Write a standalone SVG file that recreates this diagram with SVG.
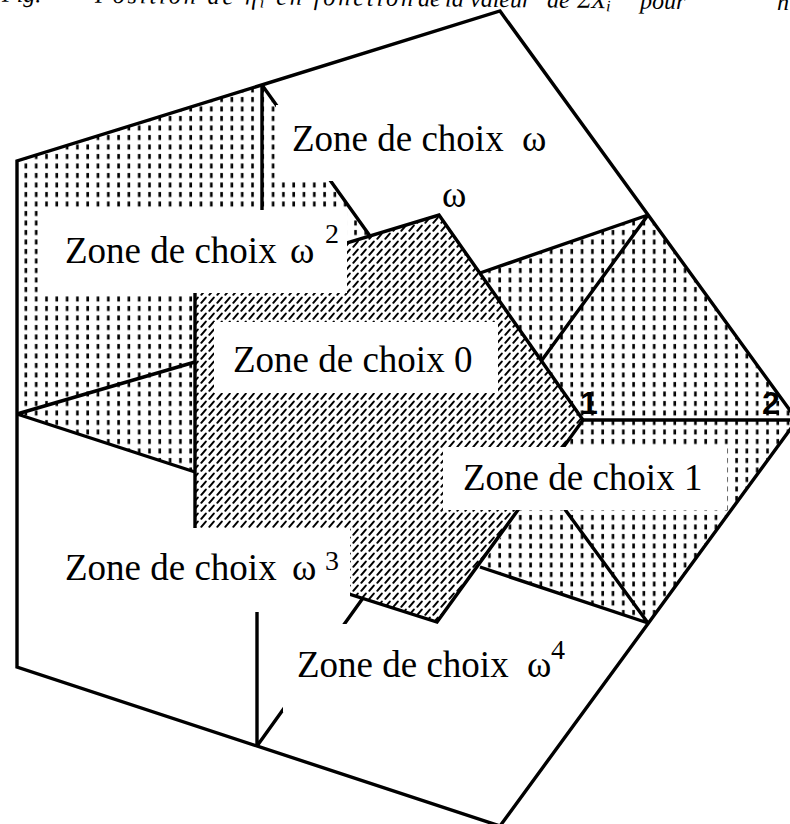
<svg xmlns="http://www.w3.org/2000/svg" width="790" height="824" viewBox="0 0 790 824">
<style>
.ln{fill:none;stroke:#000;stroke-width:3.4;stroke-linejoin:miter;stroke-linecap:butt}
.box{fill:#fff;stroke:none}
.lbl{font-family:"Liberation Serif","Times New Roman",serif;font-size:37px;fill:#000}
.sup{font-family:"Liberation Serif","Times New Roman",serif;font-size:28px;fill:#000}
.pt{font-family:"Liberation Sans",Arial,sans-serif;font-size:32px;font-weight:bold;fill:#000}
.cap{font-family:"Liberation Serif","Times New Roman",serif;font-size:24px;font-style:italic;fill:#000}
</style>
<defs>
<pattern id="dots" width="10.3" height="9.5" patternUnits="userSpaceOnUse">
<rect x="4" y="2" width="2.6" height="5" fill="#000"/>
</pattern>
<pattern id="hatch" width="8" height="8" patternUnits="userSpaceOnUse">
<path d="M1.3,6.8 L5.8,1.6" stroke="#000" stroke-width="2" stroke-linecap="round"/>
</pattern>
</defs>
<rect width="790" height="824" fill="#fff"/>

<g id="caption" transform="rotate(0.6 400 6)">
<text class="cap" x="2" y="6">Fig.</text>
<text class="cap" x="95" y="6" textLength="318" lengthAdjust="spacing">Position de η<tspan font-size="16" dy="3">i</tspan><tspan dy="-3"> en fonction</tspan></text>
<text class="cap" x="418" y="6">de</text>
<text class="cap" x="445" y="6">la</text>
<text class="cap" x="470" y="6">valeur</text>
<text class="cap" x="547" y="6">de</text>
<text class="cap" x="577" y="6">ΣX<tspan font-size="16" dy="3">i</tspan></text>
<text class="cap" x="640" y="6">pour</text>
<text class="cap" x="777" y="6">n</text>
</g>

<g id="fills">
<polygon id="zone-omega2-fill" points="262,85 370,236 195,289 195,472 17,414 17,161" fill="url(#dots)"/>
<polygon id="zone-1-fill" points="480,273 648,215 797,420 648,623 480,567 583,420" fill="url(#dots)"/>
<polygon id="zone-0-fill" points="439,215 583,420 437,622 195,545 195,289" fill="url(#hatch)"/>
</g>

<g id="connectors">
<path class="ln" d="M500,11 L797,420 L500,826 L17,667 L17,161 Z"/>
<path class="ln" d="M439,215 L583,420 L437,622 L195,545 L195,289 Z"/>
<path class="ln" d="M648,215 L480,273 M648,215 L542,360"/>
<path class="ln" d="M648,623 L480,567 M648,623 L542,478"/>
<path class="ln" d="M257,746 L257,565 M257,746 L363,598"/>
<path class="ln" d="M17,414 L195,362 M17,414 L195,472"/>
<path class="ln" d="M262,85 L262,269 M262,85 L370,236"/>
<path class="ln" d="M583,420 L797,420"/>
</g>

<g id="node-zone-omega">
<rect class="box" x="276" y="105" width="278" height="76"/>
<text class="lbl" x="292" y="151">Zone de choix</text>
<text class="lbl" x="522" y="151">ω</text>
</g>
<g id="node-omega">
<text class="lbl" x="442" y="207">ω</text>
</g>
<g id="node-zone-omega2">
<rect class="box" x="38" y="210" width="309" height="83"/>
<text class="lbl" x="65" y="263">Zone de choix</text>
<text class="lbl" x="290" y="263">ω</text>
<text class="sup" x="325" y="243">2</text>
</g>
<g id="node-zone-0">
<rect class="box" x="214" y="322" width="284" height="71"/>
<text class="lbl" x="233" y="372">Zone de choix 0</text>
</g>
<g id="node-zone-1">
<rect class="box" x="443" y="447" width="284" height="63"/>
<text class="lbl" x="463" y="490">Zone de choix 1</text>
</g>
<g id="node-zone-omega3">
<rect class="box" x="40" y="528" width="310" height="84"/>
<text class="lbl" x="65" y="580">Zone de choix</text>
<text class="lbl" x="292" y="580">ω</text>
<text class="sup" x="325" y="570">3</text>
</g>
<g id="node-zone-omega4">
<rect class="box" x="283" y="624" width="295" height="88"/>
<text class="lbl" x="297" y="677">Zone de choix</text>
<text class="lbl" x="527" y="677">ω</text>
<text class="sup" x="551" y="659">4</text>
</g>
<g id="node-1">
<text class="pt" x="580" y="414">1</text>
</g>
<g id="node-2">
<text class="pt" x="762" y="414">2</text>
</g>
</svg>
